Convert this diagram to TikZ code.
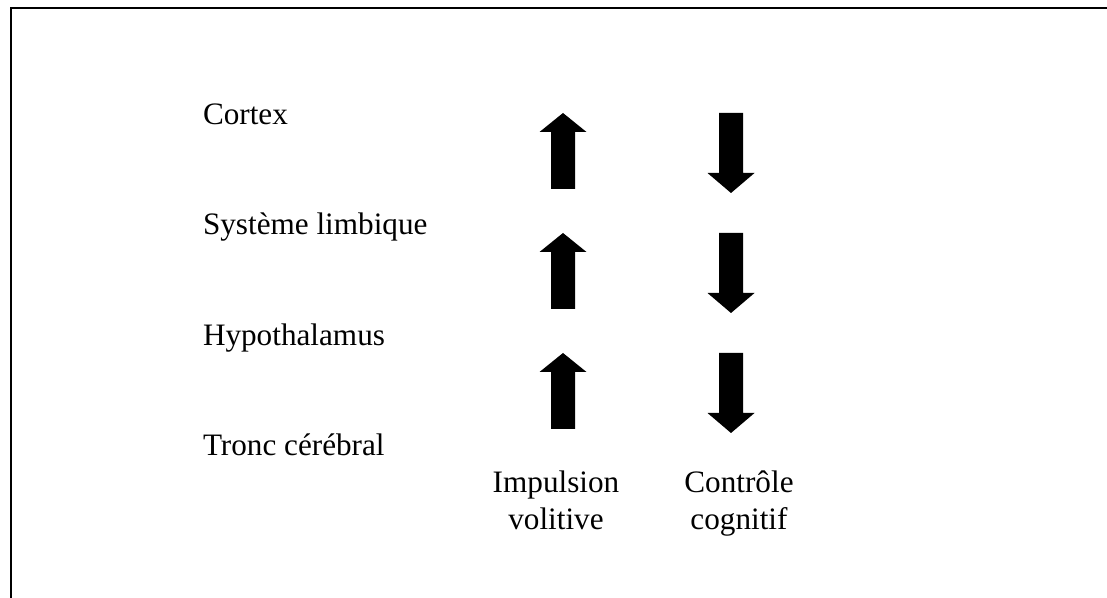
\documentclass[tikz,border=0pt]{standalone}
\usepackage{fontspec}
\setmainfont{Liberation Serif}
\begin{document}
\begin{tikzpicture}[x=0.75pt,y=-0.75pt,
  lbl/.style={inner sep=0pt,outer sep=0pt,font=\fontsize{23.4}{28}\selectfont},
  frameline/.style={line width=1.5pt,black},
  uparrow/.pic={\fill[black] (0,0) -- (23.5,19) -- (12,19) -- (12,76) -- (-12,76) -- (-12,19) -- (-23.5,19) -- cycle;},
  downarrow/.pic={\fill[black] (-12,0) -- (12,0) -- (12,60) -- (23.5,60) -- (0,80) -- (-23.5,60) -- (-12,60) -- cycle;}]
\useasboundingbox (0,0) rectangle (1107,598);
\fill[white] (0,0) rectangle (1107,598);
% frame (top and left edges visible)
\coordinate (ftl) at (11,8);
\coordinate (ftr) at (1107,8);
\coordinate (fbl) at (11,598);
\draw[frameline] (ftr) -- (ftl) -- (fbl);
% level labels
\node[lbl,anchor=base west] (cortex) at (203,125) {Cortex};
\node[lbl,anchor=base west] (limb) at (203,235) {Système limbique};
\node[lbl,anchor=base west] (hypo) at (203,346) {Hypothalamus};
\node[lbl,anchor=base west] (tronc) at (203,456) {Tronc cérébral};
% arrows
\pic at (563,113) {uparrow};
\pic at (563,233) {uparrow};
\pic at (563,353) {uparrow};
\pic at (731,113) {downarrow};
\pic at (731,233) {downarrow};
\pic at (731,353) {downarrow};
% bottom labels
\node[lbl,anchor=base] (imp1) at (556,493) {Impulsion};
\node[lbl,anchor=base] (imp2) at (556,529) {volitive};
\node[lbl,anchor=base] (con1) at (739,493) {Contrôle};
\node[lbl,anchor=base] (con2) at (739,529) {cognitif};
\end{tikzpicture}
\end{document}
